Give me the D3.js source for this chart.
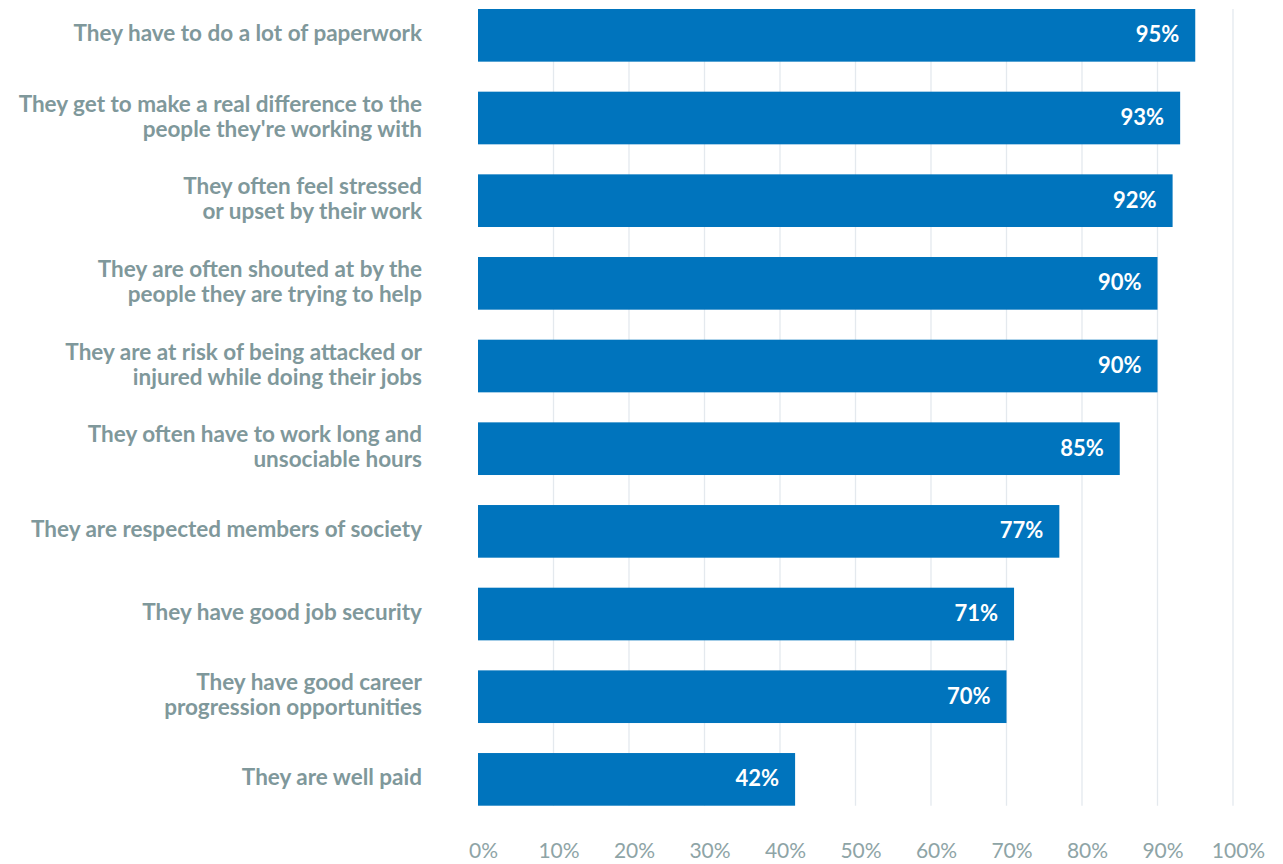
<!DOCTYPE html>
<html>
<head>
<meta charset="utf-8">
<script src="https://cdn.jsdelivr.net/npm/d3@7"></script>
<style>
  html, body { margin: 0; padding: 0; background: #ffffff; }
  svg { display: block; }
</style>
</head>
<body>
<svg id="chart" width="1283" height="864"></svg>
<script>
// Statements about the job, share of respondents agreeing (%)
const statements = [
  "They have to do a lot of paperwork",
  "They get to make a real difference to the\npeople they're working with",
  "They often feel stressed\nor upset by their work",
  "They are often shouted at by the\npeople they are trying to help",
  "They are at risk of being attacked or\ninjured while doing their jobs",
  "They often have to work long and\nunsociable hours",
  "They are respected members of society",
  "They have good job security",
  "They have good career\nprogression opportunities",
  "They are well paid"
];
const agreePct = [95, 93, 92, 90, 90, 85, 77, 71, 70, 42];
const tickValues = [0, 10, 20, 30, 40, 50, 60, 70, 80, 90, 100];

const barColor = "#0074bd";
const labelColor = "#7f989b";
const gridColor = "#e4e9ee";

const svg = d3.select("#chart");

const x = d3.scaleLinear().domain([0, 100]).range([478, 1233]);
const y = d3.scaleBand()
  .domain(statements)
  .range([9, 805.7])
  .paddingInner(0.363)
  .paddingOuter(0);

// vertical gridlines
svg.append("g")
  .selectAll("line")
  .data(tickValues.filter(d => d > 0))
  .join("line")
  .attr("x1", d => x(d)).attr("x2", d => x(d))
  .attr("y1", 9).attr("y2", 805.7)
  .attr("stroke", gridColor)
  .attr("stroke-width", 1.3);

// bottom axis labels
const axis = d3.axisBottom(x)
  .tickValues(tickValues)
  .tickFormat(d => d + "%")
  .tickSize(0)
  .tickPadding(0);
const axisG = svg.append("g")
  .attr("transform", "translate(5,843)")
  .call(axis);
axisG.select(".domain").remove();
axisG.selectAll("text")
  .attr("font-family", "Lato, sans-serif")
  .attr("font-size", 21)
  .attr("font-weight", 400)
  .attr("fill", "#8ea4a6");

// bars
svg.append("g")
  .selectAll("rect")
  .data(agreePct)
  .join("rect")
  .attr("x", x(0))
  .attr("y", (d, i) => y(statements[i]))
  .attr("width", d => x(d) - x(0))
  .attr("height", y.bandwidth())
  .attr("fill", barColor);

// value labels inside bar ends
svg.append("g")
  .selectAll("text")
  .data(agreePct)
  .join("text")
  .attr("x", d => x(d) - 16)
  .attr("y", (d, i) => y(statements[i]) + y.bandwidth() / 2 - 1)
  .attr("dy", "0.36em")
  .attr("text-anchor", "end")
  .attr("font-family", "Lato, sans-serif")
  .attr("font-size", 22)
  .attr("font-weight", 700)
  .attr("fill", "#ffffff")
  .text(d => d + "%");

// category labels, right-aligned
const lineH = 25;
const cat = svg.append("g")
  .selectAll("text")
  .data(statements)
  .join("text")
  .attr("text-anchor", "end")
  .attr("font-family", "Lato, sans-serif")
  .attr("font-size", 22.5)
  .attr("font-weight", 700)
  .attr("fill", labelColor)
  .attr("transform", d => `translate(422,${y(d) + y.bandwidth() / 2 - 2})`);

cat.each(function (d) {
  const lines = d.split("\n");
  const t = d3.select(this);
  lines.forEach((ln, k) => {
    t.append("tspan")
      .attr("x", 0)
      .attr("y", (k - (lines.length - 1) / 2) * lineH)
      .attr("dy", "0.36em")
      .text(ln);
  });
});
</script>
</body>
</html>
